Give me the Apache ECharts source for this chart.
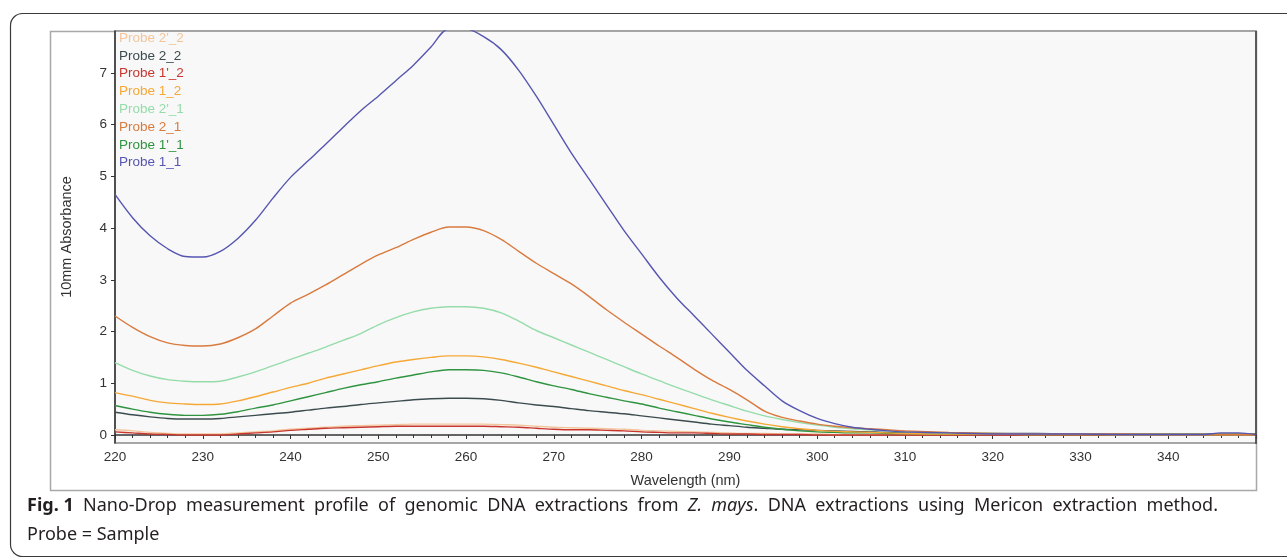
<!DOCTYPE html>
<html><head><meta charset="utf-8">
<script src="https://cdn.jsdelivr.net/npm/echarts@6/dist/echarts.min.js"></script>
<style>html,body{margin:0;padding:0;background:#fff}#c{width:1287px;height:558px}</style>
</head><body><div id="c"></div>
<script>
const wavelengths = [220,222,224,226,228,230,232,234,236,238,240,242,244,246,248,250,252,254,256,258,260,262,264,266,268,270,272,274,276,278,280,282,284,286,288,290,292,294,296,298,300,302,304,306,308,310,315,320,325,330,335,340,344,346,348,350];
const probe1_1  = [4.65,4.2,3.85,3.6,3.45,3.44,3.55,3.8,4.15,4.58,4.98,5.3,5.62,5.95,6.27,6.55,6.85,7.15,7.5,7.85,7.85,7.7,7.45,7.05,6.55,6.0,5.45,4.95,4.45,3.95,3.5,3.05,2.65,2.3,1.95,1.6,1.25,0.95,0.66,0.47,0.32,0.22,0.15,0.11,0.08,0.06,0.04,0.02,0.02,0.02,0.01,0.01,0.01,0.04,0.04,0.01];
const probe1p_1 = [0.57,0.5,0.44,0.4,0.38,0.38,0.4,0.45,0.52,0.58,0.66,0.74,0.82,0.9,0.97,1.03,1.1,1.16,1.22,1.26,1.26,1.25,1.2,1.12,1.03,0.95,0.88,0.8,0.73,0.66,0.6,0.52,0.45,0.38,0.31,0.25,0.2,0.15,0.11,0.08,0.06,0.05,0.04,0.04,0.03,0.03,0.02,0.02,0.01,0.01,0.01,0.01,0.01,0.01,0.01,0.01];
const probe2_1  = [2.3,2.08,1.9,1.78,1.73,1.72,1.76,1.88,2.05,2.3,2.55,2.72,2.9,3.1,3.3,3.48,3.62,3.78,3.92,4.02,4.02,3.95,3.78,3.55,3.32,3.12,2.92,2.68,2.42,2.18,1.95,1.72,1.5,1.27,1.06,0.88,0.68,0.46,0.34,0.27,0.21,0.17,0.14,0.12,0.1,0.08,0.05,0.03,0.02,0.02,0.02,0.01,0.01,0.01,0.01,0.01];
const probe2p_1 = [1.4,1.25,1.14,1.07,1.04,1.03,1.04,1.12,1.22,1.34,1.46,1.58,1.7,1.83,1.96,2.13,2.27,2.38,2.45,2.48,2.48,2.45,2.36,2.2,2.02,1.88,1.74,1.6,1.46,1.32,1.18,1.05,0.92,0.8,0.68,0.57,0.46,0.37,0.3,0.24,0.19,0.15,0.12,0.1,0.08,0.06,0.04,0.03,0.02,0.02,0.01,0.01,0.01,0.01,0.01,0.01];
const probe1_2  = [0.82,0.75,0.67,0.62,0.6,0.59,0.6,0.66,0.74,0.83,0.92,1.0,1.1,1.18,1.26,1.34,1.41,1.46,1.5,1.53,1.53,1.51,1.46,1.39,1.31,1.22,1.13,1.04,0.95,0.86,0.78,0.69,0.6,0.51,0.42,0.34,0.27,0.21,0.16,0.12,0.09,0.07,0.06,0.05,0.04,0.03,0.02,0.02,0.01,0.01,0.01,0.01,0.01,0.01,0.01,0.01];
const probe1p_2 = [0.06,0.04,0.02,0.01,0.0,0.0,0.0,0.02,0.04,0.06,0.09,0.11,0.13,0.14,0.15,0.16,0.17,0.17,0.17,0.17,0.17,0.17,0.16,0.15,0.13,0.11,0.1,0.1,0.09,0.08,0.06,0.05,0.04,0.04,0.03,0.02,0.02,0.01,0.01,0.01,0.0,0.0,0.0,0.0,0.0,0.0,0.0,0.0,0.0,0.0,0.0,0.0,0.0,0.0,0.0,0.0];
const probe2_2  = [0.44,0.39,0.35,0.32,0.31,0.31,0.32,0.35,0.38,0.41,0.44,0.48,0.52,0.55,0.59,0.62,0.65,0.68,0.7,0.71,0.71,0.7,0.67,0.62,0.58,0.55,0.51,0.47,0.44,0.41,0.37,0.33,0.29,0.25,0.21,0.18,0.15,0.13,0.11,0.1,0.09,0.08,0.07,0.06,0.05,0.05,0.04,0.03,0.03,0.02,0.02,0.02,0.02,0.02,0.02,0.02];
const probe2p_2 = [0.1,0.08,0.05,0.03,0.02,0.02,0.02,0.04,0.06,0.08,0.11,0.13,0.15,0.17,0.18,0.19,0.2,0.21,0.21,0.21,0.21,0.21,0.2,0.19,0.17,0.15,0.14,0.13,0.12,0.11,0.09,0.08,0.07,0.06,0.05,0.04,0.03,0.03,0.02,0.02,0.02,0.01,0.01,0.01,0.01,0.01,0.01,0.01,0.01,0.01,0.01,0.01,0.01,0.01,0.01,0.01];
const yTickValues = [0,1,2,3,4,5,6,7];
const legendOrder = ["Probe 2'_2","Probe 2_2","Probe 1'_2","Probe 1_2","Probe 2'_1","Probe 2_1","Probe 1'_1","Probe 1_1"];
// caption words: [text, style] where style: n normal, b bold, i italic
const captionWords = [[['Fig. 1','b']],[['Nano-Drop','n']],[['measurement','n']],[['profile','n']],[['of','n']],[['genomic','n']],[['DNA','n']],[['extractions','n']],[['from','n']],[['Z.','i']],[['mays','i'],['.','n']],[['DNA','n']],[['extractions','n']],[['using','n']],[['Mericon','n']],[['extraction','n']],[['method.','n']]];
const captionLine2 = 'Probe = Sample';

const seriesDefs = [
  {name:"Probe 2'_2", data:probe2p_2, color:'#f3c59c'},
  {name:"Probe 1'_2", data:probe1p_2, color:'#c8362e'},
  {name:"Probe 2_2",  data:probe2_2,  color:'#3b4b4e'},
  {name:"Probe 1'_1", data:probe1p_1, color:'#2f9440'},
  {name:"Probe 1_2",  data:probe1_2,  color:'#f6a836'},
  {name:"Probe 2'_1", data:probe2p_1, color:'#96dcaa'},
  {name:"Probe 2_1",  data:probe2_1,  color:'#d97a3e'},
  {name:"Probe 1_1",  data:probe1_1,  color:'#5656b2'}
];
const colorOf = {};
seriesDefs.forEach(s => colorOf[s.name] = s.color);

// justified caption layout (first line stretched to the column width)
const CAP_FS = 18, CAP_LEFT = 27, CAP_RIGHT = 1218, CAP_FAM = '"Noto Sans"';
const mctx = document.createElement('canvas').getContext('2d');
function fontFor(st){ return (st==='b'?'bold ':st==='i'?'italic ':'') + CAP_FS + 'px ' + CAP_FAM; }
function pieceW(p){ mctx.font = fontFor(p[1]); return mctx.measureText(p[0]).width; }
const wordW = captionWords.map(w => w.reduce((a,p)=>a+pieceW(p),0));
const totalW = wordW.reduce((a,b)=>a+b,0);
const gap = (CAP_RIGHT - CAP_LEFT - totalW) / (captionWords.length - 1);
const capGraphics = [];
let cx = CAP_LEFT;
captionWords.forEach((w,wi) => {
  let px = cx;
  w.forEach(p => {
    capGraphics.push({type:'text', x:px, y:497, style:{text:p[0], fill:'#231f20', fontSize:CAP_FS, fontFamily:'Noto Sans', fontWeight:p[1]==='b'?'bold':'normal', fontStyle:p[1]==='i'?'italic':'normal'}});
    px += pieceW(p);
  });
  cx += wordW[wi] + gap;
});
capGraphics.push({type:'text', x:CAP_LEFT, y:526, style:{text:captionLine2, fill:'#231f20', fontSize:CAP_FS, fontFamily:'Noto Sans'}});

const chart = echarts.init(document.getElementById('c'), null, {renderer:'canvas'});
chart.setOption({
  animation:false,
  backgroundColor:'#fff',
  graphic:[
    {type:'rect', z:-10, shape:{x:10.5,y:13.5,width:1300,height:543,r:12}, style:{fill:'#fff', stroke:'#3a3a3a', lineWidth:1.2}},
    {type:'rect', z:-9, shape:{x:50.5,y:31.5,width:1206,height:459}, style:{fill:'#fff', stroke:'#a8a8a8', lineWidth:1.5}},
    {type:'line', z:100, shape:{x1:1256, y1:31, x2:1256, y2:444}, style:{stroke:'#444', lineWidth:1.5}}
  ].concat(capGraphics),
  grid:{left:115, right:31, top:31, bottom:115, show:true, backgroundColor:'#f8f8f8', borderColor:'#8a8a8a', borderWidth:1.5},
  legend:{
    orient:'vertical', left:114, top:31, padding:0, itemWidth:0, itemHeight:12, itemGap:3.8,
    icon:'rect', selectedMode:false,
    data: legendOrder.map(n => ({name:n, itemStyle:{opacity:0}, textStyle:{color:colorOf[n], fontSize:13.5, fontFamily:'Liberation Sans'}}))
  },
  xAxis:{
    type:'value', min:220, max:350, interval:10,
    name:'Wavelength (nm)', nameLocation:'middle', nameGap:30,
    nameTextStyle:{fontFamily:'Liberation Sans', fontSize:14.5, color:'#333'},
    axisLine:{show:true, lineStyle:{color:'#333', width:1.5}},
    axisTick:{show:true, inside:false, length:4, lineStyle:{color:'#333'}},
    minorTick:{show:true, splitNumber:5, length:3, lineStyle:{color:'#333'}},
    axisLabel:{showMaxLabel:false, margin:7, fontFamily:'Liberation Sans', fontSize:13.5, color:'#333'},
    splitLine:{show:false}
  },
  yAxis:{
    type:'value', min:-0.155, max:7.81,
    name:'10mm Absorbance', nameLocation:'middle', nameGap:41, nameRotate:90,
    nameTextStyle:{fontFamily:'Liberation Sans', fontSize:14.5, color:'#333'},
    axisLine:{show:true, lineStyle:{color:'#333', width:1.5}},
    axisTick:{show:true, inside:false, length:4, customValues:yTickValues, lineStyle:{color:'#333'}},
    axisLabel:{customValues:yTickValues, margin:8, fontFamily:'Liberation Sans', fontSize:13.5, color:'#333'},
    splitLine:{show:false}
  },
  series: seriesDefs.map(s => ({
    name:s.name, type:'line', showSymbol:false, smooth:0.3,
    data: wavelengths.map((w,i) => [w, s.data[i]]),
    lineStyle:{color:s.color, width:1.4}, itemStyle:{color:s.color},
    clip:true
  }))
});
</script></body></html>
